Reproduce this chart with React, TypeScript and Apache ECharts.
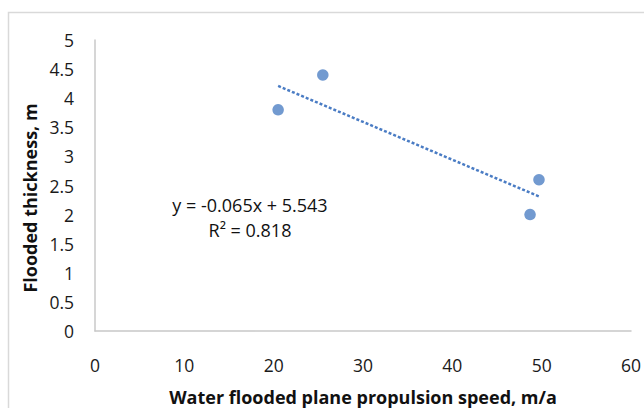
import React, { useEffect, useRef } from "react";
import * as echarts from "echarts";

const speed = [20.5, 25.5, 49.7, 48.7];
const thickness = [3.8, 4.4, 2.6, 2.0];
const slope = -0.065;
const intercept = 5.543;
const equationLines = ["y = -0.065x + 5.543", "R² = 0.818"];
const xTitle = "Water flooded plane propulsion speed, m/a";
const yTitle = "Flooded thickness, m";

export default function App() {
  const ref = useRef<HTMLDivElement>(null);
  useEffect(() => {
    const chart = echarts.init(ref.current!, null, { renderer: "svg" });
    const xMin = Math.min(...speed);
    const xMax = Math.max(...speed);
    const trend = [
      [xMin, slope * xMin + intercept],
      [xMax, slope * xMax + intercept],
    ];
    const font = "'Open Sans', sans-serif";
    chart.setOption({
      animation: false,
      backgroundColor: "#ffffff",
      grid: { left: 95, right: 13, top: 40, bottom: 77 },
      xAxis: {
        type: "value",
        min: 0,
        max: 60,
        interval: 10,
        axisLine: { show: true, onZero: false, lineStyle: { color: "#c8c8c8", width: 1.5 } },
        axisTick: { show: false },
        splitLine: { show: false },
        axisLabel: { color: "#1a1a1a", fontSize: 17.5, fontFamily: font, margin: 25 },
      },
      yAxis: {
        type: "value",
        min: 0,
        max: 5,
        interval: 0.5,
        axisLine: { show: true, lineStyle: { color: "#c8c8c8", width: 1.5 } },
        axisTick: { show: false },
        splitLine: { show: false },
        axisLabel: { color: "#1a1a1a", fontSize: 17.5, fontFamily: font, margin: 21 },
      },
      series: [
        {
          type: "line",
          data: trend,
          symbol: "none",
          lineStyle: { color: "#4a7cc4", width: 2.5, type: [3, 2] },
          z: 1,
        },
        {
          type: "scatter",
          data: speed.map((x, i) => [x, thickness[i]]),
          symbolSize: 11.5,
          itemStyle: { color: "#4f81c4" },
          z: 2,
        },
      ],
      graphic: [
        {
          type: "rect",
          shape: { x: 8.5, y: 12.5, width: 660, height: 420 },
          style: { fill: "none", stroke: "#d9d9d9", lineWidth: 1.5 },
          silent: true,
        },
        {
          type: "text",
          x: 250,
          y: 205,
          style: {
            text: equationLines[0],
            fill: "#111",
            font: `18px ${font}`,
            textAlign: "center",
            textVerticalAlign: "middle",
          },
        },
        {
          type: "text",
          x: 250,
          y: 230,
          style: {
            text: equationLines[1],
            fill: "#111",
            font: `18px ${font}`,
            textAlign: "center",
            textVerticalAlign: "middle",
          },
        },
        {
          type: "text",
          x: 363,
          y: 397,
          style: {
            text: xTitle,
            fill: "#111",
            font: `bold 18px ${font}`,
            textAlign: "center",
            textVerticalAlign: "middle",
          },
        },
        {
          type: "text",
          x: 30,
          y: 198,
          rotation: Math.PI / 2,
          style: {
            text: yTitle,
            fill: "#111",
            font: `bold 18px ${font}`,
            textAlign: "center",
            textVerticalAlign: "middle",
          },
        },
      ],
    });
    return () => chart.dispose();
  }, []);
  return (
    <div
      ref={ref}
      style={{ position: "absolute", left: 0, top: 0, width: 644, height: 408 }}
    />
  );
}
